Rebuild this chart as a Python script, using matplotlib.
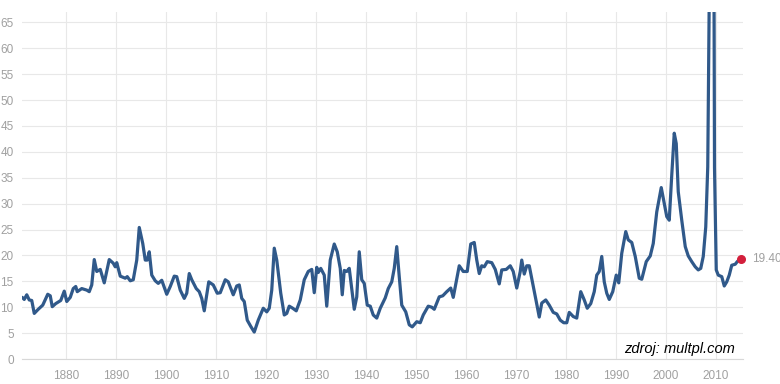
import matplotlib
matplotlib.use("Agg")
import matplotlib.pyplot as plt
import numpy as np

# S&P 500 P/E ratio
years = [
    1871.3, 1871.7, 1872.2, 1872.7, 1873.2, 1873.7, 1874.5, 1875.4, 1876.4, 1876.9,
    1877.3, 1878.0, 1879.0, 1879.7, 1880.2, 1880.9, 1881.5, 1882.0, 1882.3, 1883.2,
    1884.2, 1884.7, 1885.2, 1885.7, 1886.2, 1886.9, 1887.7, 1888.7, 1889.5, 1889.9,
    1890.2, 1890.9, 1891.9, 1892.3, 1892.9, 1893.5, 1894.2, 1894.7, 1895.4, 1895.9,
    1896.3, 1896.7, 1897.2, 1897.9, 1898.5, 1899.2, 1900.2, 1900.9, 1901.7, 1902.2,
    1902.9, 1903.7, 1904.2, 1904.7, 1905.2, 1906.1, 1906.7, 1907.2, 1907.7, 1908.6,
    1909.5, 1910.3, 1910.9, 1911.9, 1912.5, 1913.5, 1914.2, 1914.7, 1915.2, 1915.7,
    1916.3, 1917.0, 1917.7, 1918.5, 1919.5, 1920.2, 1920.7, 1921.2, 1921.7, 1922.2,
    1923.0, 1923.7, 1924.2, 1924.7, 1925.4, 1926.1, 1926.9, 1927.7, 1928.5, 1929.2,
    1929.7, 1930.2, 1930.5, 1931.0, 1931.7, 1932.2, 1932.9, 1933.7, 1934.3, 1934.9,
    1935.3, 1935.7, 1936.2, 1936.7, 1937.7, 1938.2, 1938.7, 1939.2, 1939.7, 1940.3,
    1940.9, 1941.5, 1942.2, 1942.9, 1943.9, 1944.5, 1945.2, 1945.7, 1946.2, 1946.7,
    1947.2, 1948.0, 1948.7, 1949.3, 1950.2, 1950.9, 1951.5, 1952.5, 1953.2, 1953.7,
    1954.7, 1955.4, 1956.2, 1957.0, 1957.5, 1958.1, 1958.7, 1959.5, 1960.3, 1961.0,
    1961.7, 1962.2, 1962.7, 1963.2, 1963.7, 1964.3, 1965.2, 1965.9, 1966.7, 1967.2,
    1968.1, 1968.9, 1969.5, 1970.2, 1970.9, 1971.2, 1971.7, 1972.2, 1972.7, 1973.4,
    1974.1, 1974.7, 1975.2, 1976.0, 1976.7, 1977.5, 1978.2, 1978.9, 1979.6, 1980.2,
    1980.7, 1981.5, 1982.2, 1983.0, 1983.7, 1984.3, 1985.0, 1985.7, 1986.2, 1986.7,
    1987.2, 1987.7, 1988.2, 1988.7, 1989.4, 1990.1, 1990.6, 1991.2, 1992.0, 1992.5,
    1993.2, 1993.9, 1994.7, 1995.2, 1996.1, 1996.9, 1997.5, 1998.2, 1999.1, 1999.7,
    2000.2, 2000.7, 2001.2, 2001.7, 2002.1, 2002.5, 2003.2, 2003.9, 2004.5, 2005.2,
    2005.9, 2006.5, 2007.0, 2007.5, 2008.0, 2008.4, 2008.7, 2009.0, 2009.4, 2009.6,
    2009.75, 2010.1, 2010.5, 2011.2, 2011.7, 2012.2, 2012.7, 2013.2, 2013.9, 2014.3,
    2015.0,
]
pe = [
    11.9, 11.5, 12.4, 11.4, 11.3, 8.8, 9.6, 10.4, 12.5, 12.2,
    10.1, 10.7, 11.3, 13.1, 11.1, 11.9, 13.6, 14.0, 13.0, 13.6,
    13.3, 13.0, 14.3, 19.2, 16.9, 17.3, 14.7, 19.2, 18.5, 17.8,
    18.6, 16.0, 15.6, 15.9, 15.1, 15.3, 19.1, 25.4, 22.3, 19.1,
    19.1, 20.7, 16.2, 15.1, 14.6, 15.2, 12.5, 14.0, 16.0, 15.9,
    13.3, 11.7, 12.7, 16.5, 15.3, 13.6, 13.0, 11.7, 9.3, 14.9,
    14.3, 12.7, 12.8, 15.3, 14.9, 12.4, 14.1, 14.3, 11.7, 11.1,
    7.5, 6.3, 5.2, 7.5, 9.8, 9.1, 9.8, 13.3, 21.4, 19.1,
    12.7, 8.5, 8.8, 10.2, 9.8, 9.3, 11.4, 15.3, 16.9, 17.3,
    12.8, 17.7, 16.7, 17.5, 16.2, 10.2, 19.1, 22.2, 20.7, 17.5,
    12.4, 17.1, 16.9, 17.5, 9.6, 12.0, 20.7, 15.3, 14.6, 10.4,
    10.2, 8.5, 7.9, 9.8, 11.8, 13.6, 14.9, 17.5, 21.7, 15.9,
    10.4, 9.1, 6.6, 6.2, 7.2, 7.0, 8.5, 10.2, 10.0, 9.6,
    12.0, 12.2, 13.0, 13.7, 11.9, 14.9, 18.0, 16.9, 16.9, 22.2,
    22.5, 19.1, 16.5, 18.0, 17.8, 18.8, 18.6, 17.3, 14.5, 17.2,
    17.3, 18.0, 16.9, 13.7, 16.9, 19.1, 16.4, 18.0, 18.0, 14.6,
    11.1, 8.1, 10.8, 11.4, 10.4, 9.0, 8.7, 7.5, 7.0, 7.0,
    9.0, 8.2, 7.9, 13.0, 11.4, 9.8, 10.7, 13.0, 16.2, 16.9,
    19.8, 14.9, 12.7, 11.5, 13.0, 16.2, 14.7, 20.4, 24.6, 23.0,
    22.5, 19.8, 15.6, 15.4, 18.8, 19.9, 22.3, 28.4, 33.1, 30.1,
    27.5, 26.8, 35.5, 43.6, 41.6, 32.3, 26.8, 21.7, 19.9, 18.8,
    17.8, 17.2, 17.5, 19.8, 25.5, 37.1, 70.0, 100.0, 123.0, 90.0,
    37.0, 17.2, 16.2, 15.9, 14.1, 14.9, 16.2, 18.1, 18.3, 18.8,
    19.4,
]
last_label = "19.40"
decades = list(range(1880, 2011, 10))
y_ticks = list(range(0, 66, 5))

LINE = "#30598a"
GRID = "#e8e8e8"
TICK = "#a0a0a0"

plt.rcParams["font.family"] = ["Liberation Sans", "DejaVu Sans"]

fig = plt.figure(figsize=(7.8, 3.84), dpi=100)
ax = fig.add_axes([22 / 780, 25 / 384, (743 - 22) / 780, (359 - 12) / 384])

ax.plot(years, pe, color=LINE, lw=2.3, solid_joinstyle="round",
        solid_capstyle="round", zorder=3)
ax.scatter([years[-1]], [pe[-1]], s=30, color="#d31f3c", zorder=4,
           clip_on=False)
ax.annotate(last_label, (years[-1], pe[-1]), xytext=(8, 0),
            textcoords="offset points", va="center", ha="left",
            color=TICK, fontsize=8.5, annotation_clip=False)

ax.set_xlim(1871.25, 2015.45)
ax.set_ylim(0, 67)
ax.set_xticks(decades)
ax.set_yticks(y_ticks)
ax.grid(True, color=GRID, lw=0.8, zorder=0)
ax.set_axisbelow(True)

for side in ["top", "right", "left"]:
    ax.spines[side].set_visible(False)
ax.spines["bottom"].set_color("#d8d8d8")
ax.spines["bottom"].set_linewidth(0.8)

ax.tick_params(axis="both", length=0, colors=TICK, labelsize=8.5)
ax.tick_params(axis="x", pad=8)
ax.tick_params(axis="y", pad=6)

fig.text(735 / 780, 1 - 349 / 384, "zdroj: multpl.com", ha="right",
         va="center", fontsize=10.5, style="italic", color="black")

fig.savefig("out.png", dpi=100, facecolor="white")
